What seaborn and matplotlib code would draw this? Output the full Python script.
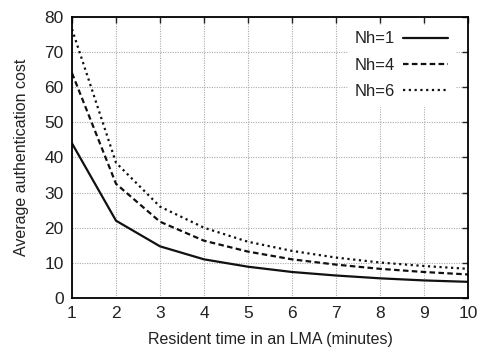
import pandas as pd
import numpy as np
import matplotlib.pyplot as plt
import seaborn as sns

# values
resident_time = [1, 2, 3, 4, 5, 6, 7, 8, 9, 10]
cost_nh1 = [44.0, 22.0, 14.7, 11.0, 8.9, 7.4, 6.4, 5.6, 5.0, 4.6]
cost_nh4 = [64.0, 32.5, 21.7, 16.3, 13.2, 11.0, 9.5, 8.3, 7.4, 6.7]
cost_nh6 = [76.5, 38.5, 26.0, 20.0, 16.0, 13.4, 11.5, 10.1, 9.1, 8.3]
series_names = ['Nh=1', 'Nh=4', 'Nh=6']

df = pd.DataFrame({
    'time': resident_time * 3,
    'cost': cost_nh1 + cost_nh4 + cost_nh6,
    'series': np.repeat(series_names, len(resident_time)),
})

sns.set_style("white")
plt.rcParams['font.family'] = ['Liberation Sans', 'DejaVu Sans']

fig = plt.figure(figsize=(4.8, 3.51), dpi=100)
ax = fig.add_axes([0.15, 0.151, 0.825, 0.801])

sns.lineplot(data=df, x='time', y='cost', style='series', color='#111111',
             dashes={'Nh=1': '', 'Nh=4': (2.5, 1.5), 'Nh=6': (1, 1.6)},
             linewidth=1.6, ax=ax)

ax.set_xlim(1, 10)
ax.set_ylim(0, 80)
ax.set_xticks(range(1, 11))
ax.set_yticks(range(0, 81, 10))
ax.grid(True, color='#aaaaaa', linestyle=(0, (1, 1.2)), linewidth=0.8)
ax.tick_params(direction='in', top=True, right=True, length=4, width=1,
               labelsize=12.5, colors='#222222', pad=6)
for s in ax.spines.values():
    s.set_color('black')
    s.set_linewidth(1.3)

ax.set_xlabel("Resident time in an LMA (minutes)", fontsize=11.5, labelpad=8,
              color='#222222')
ax.set_ylabel("Average authentication cost", fontsize=11.5, labelpad=11,
              color='#222222')

leg = ax.legend(loc='upper right', bbox_to_anchor=(0.967, 0.972),
                markerfirst=False, frameon=True,
                fontsize=12, handlelength=2.7, labelspacing=0.68,
                borderaxespad=0, fancybox=False, handletextpad=0.5)
leg.get_frame().set_edgecolor('white')
leg.get_frame().set_facecolor('white')
leg.get_frame().set_alpha(1)
for line in leg.get_lines():
    line.set_linewidth(1.6)
for t in leg.get_texts():
    t.set_color('#222222')

fig.savefig('out.png', dpi=100)
